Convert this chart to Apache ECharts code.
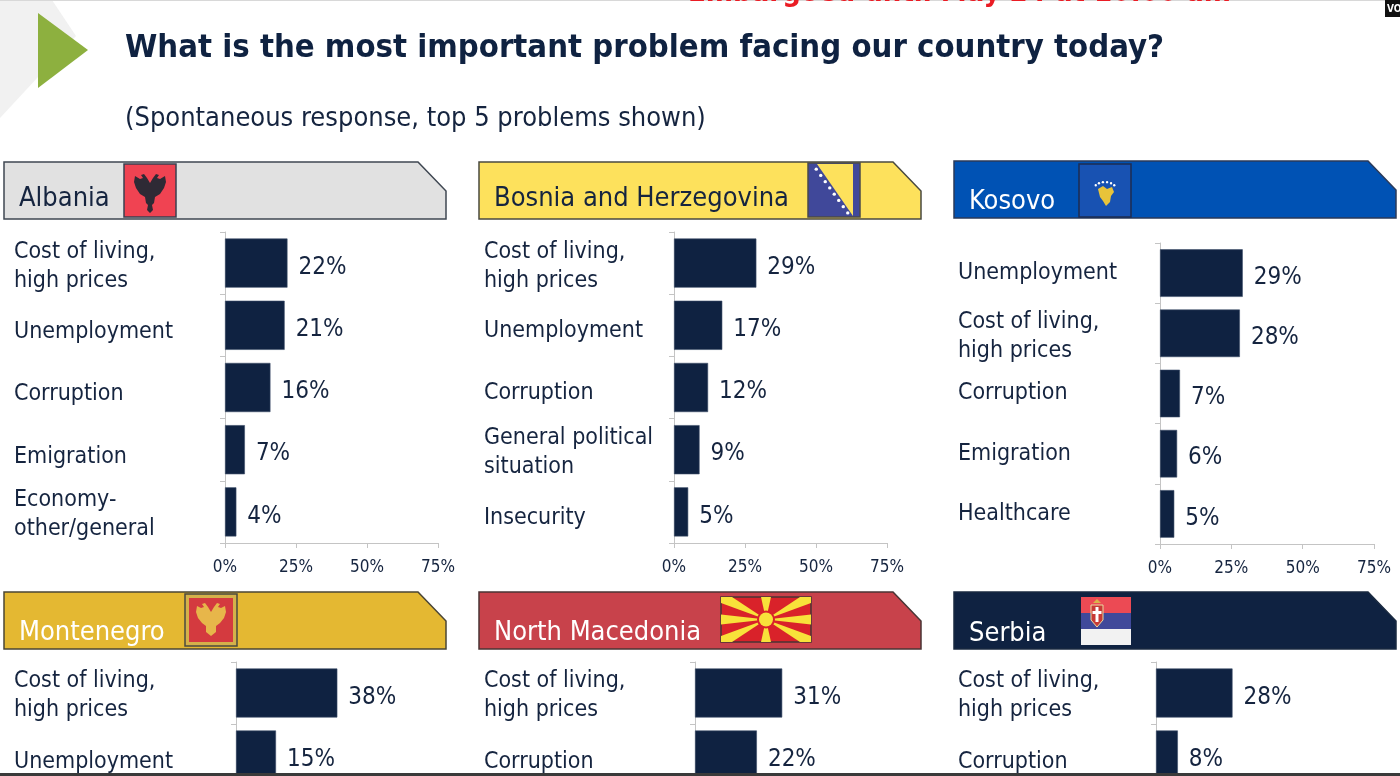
<!DOCTYPE html>
<html>
<head>
<meta charset="utf-8">
<script src="https://cdn.jsdelivr.net/npm/echarts@6/dist/echarts.min.js"></script>
<style>
html,body{margin:0;padding:0;background:#fff;overflow:hidden;}
#chart{width:1400px;height:776px;}
</style>
</head>
<body>
<div id="chart"></div>
<script>
// ---------- DATA ----------
const titleText = 'What is the most important problem facing our country today?';
const subtitleText = '(Spontaneous response, top 5 problems shown)';
const embargoText = 'Embargoed until May 24 at 10:00 am';
const countries = ['Albania', 'Bosnia and Herzegovina', 'Kosovo', 'Montenegro', 'North Macedonia', 'Serbia'];

const albaniaCats = ['Cost of living,\nhigh prices', 'Unemployment', 'Corruption', 'Emigration', 'Economy-\nother/general'];
const albaniaVals = [22, 21, 16, 7, 4];

const bosniaCats = ['Cost of living,\nhigh prices', 'Unemployment', 'Corruption', 'General political\nsituation', 'Insecurity'];
const bosniaVals = [29, 17, 12, 9, 5];

const kosovoCats = ['Unemployment', 'Cost of living,\nhigh prices', 'Corruption', 'Emigration', 'Healthcare'];
const kosovoVals = [29, 28, 7, 6, 5];

const montenegroCats = ['Cost of living,\nhigh prices', 'Unemployment'];
const montenegroVals = [38, 15];

const macedoniaCats = ['Cost of living,\nhigh prices', 'Corruption'];
const macedoniaVals = [31, 22];

const serbiaCats = ['Cost of living,\nhigh prices', 'Corruption'];
const serbiaVals = [28, 8];

const xTicks = [0, 25, 50, 75]; // percent tick labels

// ---------- LAYOUT / STYLE ----------
const FONT = '"DejaVu Sans Condensed", "DejaVu Sans", Lato, sans-serif';
const NAVY = '#0f2241';
const TEXT = '#15243f';
const GRAY = '#c4c4c4';

const panels = [
  {cats: albaniaCats, vals: albaniaVals, left: 225, top: 232, width: 213, height: 311, labelX: 14, shift: 5},
  {cats: bosniaCats, vals: bosniaVals, left: 674, top: 232, width: 213, height: 311, labelX: 484, shift: 4},
  {cats: kosovoCats, vals: kosovoVals, left: 1160, top: 243, width: 214, height: 301, labelX: 958, shift: -2},
  {cats: montenegroCats, vals: montenegroVals, left: 236, top: 662, width: 200, height: 124, labelX: 14, shift: 5},
  {cats: macedoniaCats, vals: macedoniaVals, left: 695, top: 662, width: 211, height: 124, labelX: 484, shift: 5},
  {cats: serbiaCats, vals: serbiaVals, left: 1156, top: 662, width: 205, height: 124, labelX: 958, shift: 5}
];

const banners = [
  {x: 4, y: 162, fill: '#e1e1e1', text: countries[0], color: TEXT, stroke: '#3f4752', ty: 37},
  {x: 479, y: 162, fill: '#fde15c', text: countries[1], color: TEXT, stroke: '#4a4a40', ty: 37},
  {x: 954, y: 161, fill: '#0052b4', text: countries[2], color: '#ffffff', stroke: '#2a3a5a', ty: 41},
  {x: 4, y: 592, fill: '#e4b832', text: countries[3], color: '#ffffff', stroke: '#4a4535', ty: 41},
  {x: 479, y: 592, fill: '#c8424b', text: countries[4], color: '#ffffff', stroke: '#4a3535', ty: 41},
  {x: 954, y: 592, fill: '#0f2241', text: countries[5], color: '#ffffff', stroke: '#1a2a40', ty: 42}
];
const BW = 442, BH = 57, CUT = 28;

const LBL = {fontSize: 23, fontFamily: FONT, color: TEXT};
const grids = [], xAxes = [], yAxes = [], series = [];
panels.forEach((p, i) => {
  grids.push({left: p.left, top: p.top, width: p.width, height: p.height, outerBoundsMode: 'none', containLabel: false});
  xAxes.push({
    type: 'value', gridIndex: i, min: xTicks[0], max: xTicks[xTicks.length - 1],
    interval: xTicks[1] - xTicks[0],
    splitLine: {show: false},
    axisLine: {show: true, lineStyle: {color: GRAY, width: 1}},
    axisTick: {show: true, length: 5, lineStyle: {color: GRAY}},
    axisLabel: {formatter: '{value}%', fontSize: 17, color: TEXT, fontFamily: FONT, margin: 16}
  });
  yAxes.push({
    type: 'category', gridIndex: i, data: p.cats, inverse: true,
    axisLine: {show: true, lineStyle: {color: GRAY, width: 1}},
    axisTick: {show: true, length: 5, lineStyle: {color: GRAY}},
    axisLabel: {align: 'left', margin: p.left - p.labelX, fontSize: 23, lineHeight: 29,
      color: TEXT, fontFamily: FONT, interval: 0, hideOverlap: false,
      formatter: function (v) {
        const lines = v.split('\n');
        if (lines.length === 1) return '{s|' + v + '}';
        return '{e| }\n' + lines.map(l => '{t|' + l + '}').join('\n');
      },
      rich: {
        s: Object.assign({}, LBL, {lineHeight: 27, padding: [Math.max(0, 2 * (p.shift + 2)), 0, 0, 0]}),
        e: {fontSize: 1, lineHeight: 6},
        t: Object.assign({}, LBL, {lineHeight: 29})
      }
    }
  });
  series.push({
    type: 'bar', xAxisIndex: i, yAxisIndex: i, data: p.vals,
    barCategoryGap: '21%',
    itemStyle: {color: NAVY, borderColor: '#3c4d68', borderWidth: 0.6},
    label: {show: true, position: 'right', distance: 11, formatter: '{v|{c}%}',
      rich: {v: {fontSize: 24, color: TEXT, fontFamily: FONT, padding: [9, 0, 0, 0]}}},
    silent: true
  });
});

// ---------- DECORATIONS ----------
const g = [];
g.push({type: 'polygon', shape: {points: [[0, 0], [52, 0], [76, 36], [0, 118]]}, style: {fill: '#f1f1f1'}, z: 0});
g.push({type: 'polygon', shape: {points: [[38, 13], [88, 50], [38, 88]]}, style: {fill: '#8db03f'}, z: 1});
g.push({type: 'rect', shape: {x: 0, y: 0, width: 1400, height: 1}, style: {fill: '#d8d8d8'}});
g.push({type: 'text', x: 688, y: -7, style: {text: embargoText, font: 'bold 29px ' + FONT, fill: '#ea1c24', textVerticalAlign: 'middle'}});
g.push({type: 'rect', shape: {x: 1385, y: 0, width: 15, height: 17}, style: {fill: '#111'}});
g.push({type: 'text', x: 1387, y: 9, style: {text: 'VO', font: 'bold 10px ' + FONT, fill: '#fff', textVerticalAlign: 'middle'}});
g.push({type: 'text', x: 125, y: 49, style: {text: titleText, font: 'bold 32.6px ' + FONT, fill: '#0f2241', textVerticalAlign: 'middle'}});
g.push({type: 'text', x: 125, y: 119, style: {text: subtitleText, font: '27px ' + FONT, fill: TEXT, textVerticalAlign: 'middle'}});

banners.forEach(b => {
  g.push({type: 'polygon', shape: {points: [[b.x, b.y], [b.x + BW - CUT, b.y], [b.x + BW, b.y + CUT + 1], [b.x + BW, b.y + BH], [b.x, b.y + BH]]},
    style: {fill: b.fill, stroke: b.stroke, lineWidth: 1.5}, z: 2});
  g.push({type: 'text', x: b.x + 15, y: b.y + b.ty, style: {text: b.text, font: '27px ' + FONT, fill: b.color, textVerticalAlign: 'middle'}, z: 4});
});

// Albania flag
g.push({type: 'rect', shape: {x: 124, y: 164, width: 52, height: 53}, style: {fill: '#f04352', stroke: '#3a4050', lineWidth: 1.5}, z: 3});
g.push({type: 'polygon', shape: {points: [[150, 183], [147, 178], [144, 174], [141, 175], [143, 178], [140, 179], [135, 176], [134, 182], [136, 188], [140, 194], [145, 197], [146, 203], [148, 205], [147, 210], [150, 213], [153, 210], [152, 205], [154, 203], [155, 197], [160, 194], [164, 188], [166, 182], [165, 176], [160, 179], [157, 178], [159, 175], [156, 174], [153, 178]]},
  style: {fill: '#2e2a35'}, z: 4});
// Bosnia flag
g.push({type: 'rect', shape: {x: 808, y: 163, width: 52, height: 54}, style: {fill: '#40489a', stroke: '#4a4a4a', lineWidth: 1.5}, z: 3});
g.push({type: 'polygon', shape: {points: [[817, 164], [853, 164], [853, 216]]}, style: {fill: '#fde15c'}, z: 4});
for (let k = 0; k < 8; k++) {
  const t = (k + 0.5) / 8;
  g.push({type: 'circle', shape: {cx: 814 + 36 * t, cy: 166 + 50 * t, r: 1.7}, style: {fill: '#fff'}, z: 5});
}
// Kosovo flag
g.push({type: 'rect', shape: {x: 1079, y: 164, width: 52, height: 53}, style: {fill: '#1852b2', stroke: '#1d2c52', lineWidth: 1.5}, z: 3});
g.push({type: 'polygon', shape: {points: [[1098, 189], [1103, 186], [1107, 189], [1112, 187], [1114, 192], [1111, 196], [1110, 202], [1106, 206], [1103, 201], [1100, 197]]}, style: {fill: '#e8c33a'}, z: 4});
for (let k = 0; k < 6; k++) {
  const a = Math.PI * (0.78 - k * 0.112);
  g.push({type: 'circle', shape: {cx: 1105 + 12 * Math.cos(a), cy: 191 - 9 * Math.sin(a), r: 1.2}, style: {fill: '#fff'}, z: 5});
}
// Montenegro flag
g.push({type: 'rect', shape: {x: 185, y: 594, width: 52, height: 52}, style: {fill: '#d4b14a', stroke: '#4a4a40', lineWidth: 1.5}, z: 3});
g.push({type: 'rect', shape: {x: 189, y: 598, width: 44, height: 44}, style: {fill: '#d43a3f'}, z: 4});
g.push({type: 'polygon', shape: {points: [[211, 612], [208, 607], [205, 603], [202, 604], [204, 607], [201, 608], [197, 606], [196, 612], [198, 618], [202, 623], [206, 626], [206, 632], [211, 636], [216, 632], [216, 626], [220, 623], [224, 618], [226, 612], [225, 606], [221, 608], [218, 607], [220, 604], [217, 603], [214, 607]]}, style: {fill: '#e7b64a'}, z: 5});
// North Macedonia flag
(function () {
  const x0 = 721, y0 = 597, w = 90, h = 45, cx = x0 + w / 2, cy = y0 + h / 2, Y = '#f8e23a';
  g.push({type: 'rect', shape: {x: x0, y: y0, width: w, height: h}, style: {fill: '#d9222a', stroke: '#4a3434', lineWidth: 1.5}, z: 3});
  const rays = [
    [[cx, cy], [x0, y0 + 6], [x0, y0], [x0 + 11, y0]],
    [[cx, cy], [x0 + w - 11, y0], [x0 + w, y0], [x0 + w, y0 + 6]],
    [[cx, cy], [x0, y0 + h - 6], [x0, y0 + h], [x0 + 11, y0 + h]],
    [[cx, cy], [x0 + w - 11, y0 + h], [x0 + w, y0 + h], [x0 + w, y0 + h - 6]],
    [[cx, cy], [cx - 5, y0], [cx + 5, y0]],
    [[cx, cy], [cx - 5, y0 + h], [cx + 5, y0 + h]],
    [[cx, cy], [x0, cy - 5], [x0, cy + 5]],
    [[cx, cy], [x0 + w, cy - 5], [x0 + w, cy + 5]]
  ];
  rays.forEach(r => g.push({type: 'polygon', shape: {points: r}, style: {fill: Y}, z: 4}));
  g.push({type: 'circle', shape: {cx: cx, cy: cy, r: 9}, style: {fill: '#d9222a'}, z: 5});
  g.push({type: 'circle', shape: {cx: cx, cy: cy, r: 7}, style: {fill: Y}, z: 6});
})();
// Serbia flag
g.push({type: 'rect', shape: {x: 1081, y: 597, width: 50, height: 16}, style: {fill: '#ec4a54'}, z: 3});
g.push({type: 'rect', shape: {x: 1081, y: 613, width: 50, height: 16}, style: {fill: '#40499a'}, z: 3});
g.push({type: 'rect', shape: {x: 1081, y: 629, width: 50, height: 16}, style: {fill: '#f2f2f2'}, z: 3});
g.push({type: 'polygon', shape: {points: [[1091, 605], [1103, 605], [1103, 620], [1097, 627], [1091, 620]]}, style: {fill: '#c73a36', stroke: '#e9d9a0', lineWidth: 1}, z: 4});
g.push({type: 'rect', shape: {x: 1095.5, y: 607, width: 3, height: 15}, style: {fill: '#fff'}, z: 5});
g.push({type: 'rect', shape: {x: 1092.5, y: 611, width: 9, height: 3}, style: {fill: '#fff'}, z: 5});
g.push({type: 'polygon', shape: {points: [[1093, 603], [1097, 599], [1101, 603]]}, style: {fill: '#d9b44a'}, z: 4});
g.push({type: 'rect', shape: {x: 0, y: 773, width: 1400, height: 3}, style: {fill: '#3a3a3a'}, z: 10});

const chart = echarts.init(document.getElementById('chart'), null, {renderer: 'canvas'});
chart.setOption({
  backgroundColor: '#ffffff',
  animation: false,
  textStyle: {fontFamily: FONT},
  grid: grids,
  xAxis: xAxes,
  yAxis: yAxes,
  series: series,
  graphic: g
});
</script>
</body>
</html>
